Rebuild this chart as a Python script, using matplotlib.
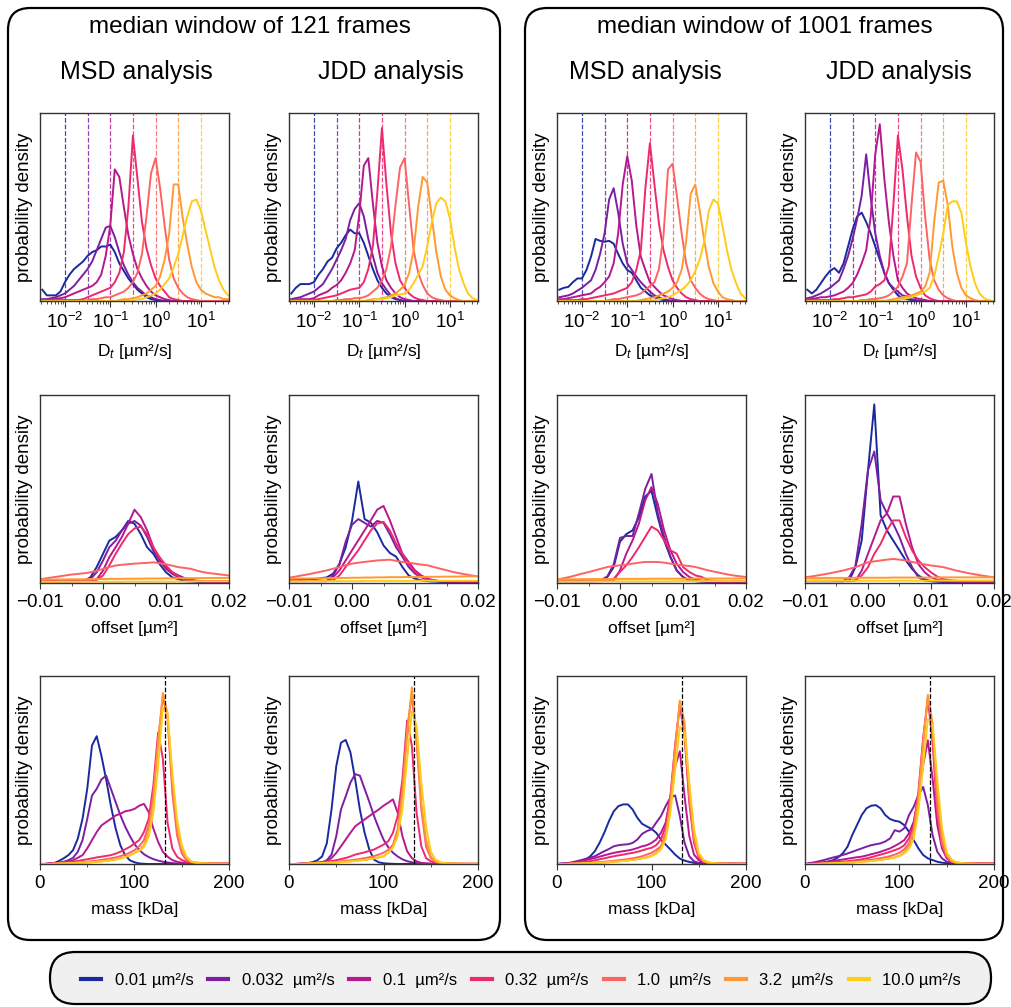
import numpy as np
import matplotlib
matplotlib.use('Agg')
import matplotlib.pyplot as plt
from matplotlib.patches import FancyBboxPatch
from matplotlib.lines import Line2D
from matplotlib.ticker import LogLocator, MultipleLocator, FuncFormatter, NullFormatter

plt.rcParams['font.family'] = ['Liberation Sans', 'DejaVu Sans']
plt.rcParams['mathtext.fontset'] = 'custom'
plt.rcParams['mathtext.rm'] = 'Liberation Sans'
plt.rcParams['mathtext.it'] = 'Liberation Sans:italic'
plt.rcParams['mathtext.bf'] = 'Liberation Sans:bold'

# diffusion coefficients of the simulated series (um^2/s)
rates = [0.01, 0.032, 0.1, 0.32, 1.0, 3.2, 10.0]
rate_labels = ['0.01 µm²/s', '0.032  µm²/s', '0.1  µm²/s', '0.32  µm²/s',
               '1.0  µm²/s', '3.2  µm²/s', '10.0 µm²/s']
colors = ['#1a2a9e', '#7b1fa2', '#b5188f', '#f0286e', '#ff6262', '#ff9933', '#ffcc1a']
true_mass = 132

# bin centres
log_d = np.round(np.arange(-2.5, 1.65, 0.1), 1)      # log10 D
offset = np.arange(-10, 21) * 1e-3                     # um^2
mass = np.arange(0, 201, 5)                            # kDa

# ---- D_t histograms (relative density), order: 0.01 ... 10.0
d_msd_121 = [
    [0.06, 0.03, 0.03, 0.03, 0.05, 0.10, 0.14, 0.17, 0.19, 0.21,
     0.24, 0.26, 0.27, 0.29, 0.29, 0.30, 0.26, 0.20, 0.16, 0.12,
     0.09, 0.06, 0.04, 0.02, 0.01, 0.005] + [0] * 16,
    [0.01, 0.01, 0.015, 0.02, 0.03, 0.04, 0.06, 0.08, 0.11, 0.14,
     0.17, 0.21, 0.27, 0.33, 0.39, 0.40, 0.34, 0.26, 0.19, 0.14,
     0.10, 0.07, 0.05, 0.03, 0.02, 0.01, 0.005] + [0] * 15,
    [0.005, 0.005, 0.01, 0.01, 0.015, 0.02, 0.03, 0.04, 0.05, 0.06,
     0.07, 0.08, 0.10, 0.14, 0.24, 0.40, 0.70, 0.66, 0.50, 0.35,
     0.25, 0.17, 0.12, 0.08, 0.05, 0.03, 0.02, 0.01, 0.005] + [0] * 13,
    [0.005, 0.005, 0.005, 0.005, 0.005, 0.005, 0.005, 0.005, 0.005, 0.01,
     0.02, 0.03, 0.04, 0.05, 0.06, 0.07, 0.10, 0.15, 0.26, 0.50,
     0.88, 0.65, 0.42, 0.28, 0.19, 0.12, 0.08, 0.05, 0.02, 0.01,
     0.005] + [0] * 11,
    [0] * 10 +
    [0.005, 0.01, 0.01, 0.015, 0.02, 0.02, 0.03, 0.04, 0.05, 0.07,
     0.10, 0.15, 0.25, 0.45, 0.68, 0.76, 0.60, 0.40, 0.22, 0.12,
     0.07, 0.04, 0.02, 0.01, 0.005] + [0] * 7,
    [0] * 17 +
    [0.005, 0.01, 0.01,
     0.015, 0.02, 0.03, 0.04, 0.06, 0.08, 0.13, 0.22, 0.36, 0.62,
     0.62, 0.44, 0.30, 0.18, 0.10, 0.06, 0.04, 0.03, 0.02, 0.02,
     0.01, 0.01],
    [0] * 20 +
    [0.005, 0.01, 0.01, 0.02, 0.03, 0.04, 0.06, 0.09, 0.12, 0.18,
     0.25, 0.35, 0.45, 0.53, 0.54, 0.48, 0.38, 0.28, 0.18, 0.11,
     0.06, 0.03],
]

d_jdd_121 = [
    [0.04, 0.07, 0.09, 0.09, 0.09, 0.10, 0.14, 0.17, 0.21, 0.23,
     0.28, 0.31, 0.35, 0.38, 0.36, 0.36, 0.31, 0.24, 0.17, 0.11,
     0.07, 0.04, 0.02, 0.01, 0.005] + [0] * 17,
    [0.01, 0.015, 0.02, 0.03, 0.04, 0.05, 0.07, 0.09, 0.13, 0.17,
     0.22, 0.27, 0.33, 0.43, 0.49, 0.52, 0.45, 0.33, 0.24, 0.15,
     0.095, 0.06, 0.03, 0.015, 0.005] + [0] * 17,
    [0.005, 0.005, 0.01, 0.01, 0.01, 0.015, 0.03, 0.04, 0.05, 0.07,
     0.085, 0.11, 0.15, 0.20, 0.27, 0.46, 0.72, 0.76, 0.52, 0.31,
     0.185, 0.11, 0.07, 0.04, 0.02, 0.01, 0.005] + [0] * 15,
    [0.005, 0.005, 0.005, 0.005, 0.005, 0.005, 0.01, 0.015, 0.02, 0.025,
     0.03, 0.04, 0.05, 0.06, 0.065, 0.07, 0.10, 0.17, 0.29, 0.58,
     0.92, 0.62, 0.36, 0.20, 0.11, 0.07, 0.04, 0.02, 0.01, 0.005] + [0] * 12,
    [0] * 10 +
    [0.005, 0.005, 0.01, 0.01, 0.015, 0.015, 0.02, 0.03, 0.05, 0.07,
     0.11, 0.17, 0.29, 0.51, 0.71, 0.76, 0.51, 0.27, 0.15, 0.085,
     0.04, 0.02, 0.01, 0.005] + [0] * 8,
    [0] * 17 +
    [0.005, 0.01, 0.01,
     0.015, 0.02, 0.03, 0.04, 0.06, 0.085, 0.15, 0.27, 0.50, 0.66,
     0.63, 0.45, 0.26, 0.13, 0.06, 0.03, 0.015, 0.005, 0, 0,
     0, 0],
    [0] * 18 +
    [0.005, 0.01,
     0.01, 0.015, 0.02, 0.03, 0.035, 0.04, 0.06, 0.095, 0.14, 0.185,
     0.29, 0.42, 0.52, 0.55, 0.53, 0.44, 0.29, 0.17, 0.095, 0.04,
     0.015, 0.005],
]

d_msd_1001 = [
    [0.06, 0.07, 0.075, 0.10, 0.12, 0.12, 0.165, 0.235, 0.33, 0.32,
     0.315, 0.32, 0.305, 0.25, 0.20, 0.165, 0.15, 0.11, 0.07, 0.05,
     0.03, 0.02, 0.01, 0.005] + [0] * 18,
    [0.02, 0.025, 0.03, 0.04, 0.055, 0.07, 0.09, 0.11, 0.165, 0.25,
     0.36, 0.54, 0.60, 0.47, 0.305, 0.20, 0.165, 0.13, 0.10, 0.075,
     0.05, 0.03, 0.02, 0.01, 0.005] + [0] * 17,
    [0.01, 0.01, 0.015, 0.02, 0.025, 0.03, 0.035, 0.04, 0.06, 0.075,
     0.10, 0.13, 0.20, 0.36, 0.62, 0.77, 0.64, 0.40, 0.235, 0.165,
     0.10, 0.075, 0.05, 0.03, 0.02, 0.01, 0.005] + [0] * 15,
    [0.005, 0.005, 0.005, 0.005, 0.005, 0.01, 0.01, 0.015, 0.02, 0.025,
     0.03, 0.035, 0.04, 0.05, 0.06, 0.07, 0.10, 0.165, 0.27, 0.60,
     0.84, 0.62, 0.41, 0.27, 0.18, 0.11, 0.07, 0.04, 0.02, 0.01,
     0.005] + [0] * 11,
    [0] * 10 +
    [0, 0.005, 0.01, 0.01, 0.015, 0.02, 0.025, 0.03, 0.04, 0.06,
     0.08, 0.10, 0.17, 0.35, 0.70, 0.73, 0.55, 0.36, 0.20, 0.11,
     0.07, 0.04, 0.02, 0.01, 0.005] + [0] * 7,
    [0] * 18 +
    [0.005, 0.01,
     0.015, 0.02, 0.03, 0.04, 0.05, 0.07, 0.10, 0.165, 0.32, 0.57,
     0.62, 0.48, 0.32, 0.18, 0.095, 0.05, 0.02, 0.01, 0.005, 0,
     0, 0],
    [0] * 21 +
    [0.005, 0.01, 0.015, 0.02, 0.03, 0.045, 0.06, 0.08, 0.11,
     0.16, 0.22, 0.32, 0.48, 0.54, 0.52, 0.40, 0.27, 0.165, 0.095,
     0.04, 0.015],
]

d_jdd_1001 = [
    [0.06, 0.04, 0.06, 0.095, 0.13, 0.16, 0.175, 0.15, 0.20, 0.29,
     0.38, 0.45, 0.47, 0.42, 0.36, 0.29, 0.22, 0.15, 0.095, 0.06,
     0.03, 0.015, 0.01, 0.005] + [0] * 18,
    [0.015, 0.02, 0.03, 0.04, 0.055, 0.07, 0.09, 0.11, 0.17, 0.24,
     0.33, 0.435, 0.56, 0.78, 0.55, 0.36, 0.24, 0.15, 0.095, 0.07,
     0.05, 0.03, 0.025, 0.01, 0.005] + [0] * 17,
    [0.01, 0.01, 0.015, 0.02, 0.02, 0.025, 0.03, 0.04, 0.05, 0.07,
     0.095, 0.14, 0.20, 0.27, 0.45, 0.78, 0.94, 0.65, 0.42, 0.24,
     0.11, 0.07, 0.04, 0.025, 0.015, 0.01, 0.005] + [0] * 15,
    [0.005, 0.005, 0.005, 0.005, 0.005, 0.005, 0.01, 0.01, 0.015, 0.02,
     0.02, 0.025, 0.03, 0.035, 0.05, 0.077, 0.09, 0.11, 0.185, 0.51,
     0.88, 0.70, 0.45, 0.24, 0.13, 0.07, 0.03, 0.015, 0.005] + [0] * 13,
    [0] * 10 +
    [0, 0, 0.005, 0.005, 0.01, 0.01, 0.015, 0.02, 0.03, 0.05,
     0.077, 0.13, 0.20, 0.51, 0.79, 0.74, 0.45, 0.22, 0.11, 0.06,
     0.03, 0.015, 0.005] + [0] * 9,
    [0] * 18 +
    [0.005, 0.01,
     0.015, 0.02, 0.025, 0.03, 0.04, 0.05, 0.077, 0.15, 0.42, 0.63,
     0.64, 0.51, 0.29, 0.15, 0.07, 0.03, 0.015, 0.005, 0, 0,
     0, 0],
    [0] * 20 +
    [0.005, 0.01, 0.015, 0.02, 0.03, 0.04, 0.05, 0.07, 0.13, 0.24,
     0.36, 0.51, 0.53, 0.53, 0.47, 0.31, 0.185, 0.095, 0.04, 0.015,
     0.005, 0],
]

# ---- offset histograms
off_msd_121 = [
    [0.01, 0.01, 0.01, 0.01, 0.01, 0.01, 0.01, 0.012, 0.03, 0.085,
     0.155, 0.225, 0.245, 0.28, 0.33, 0.315, 0.26, 0.19, 0.155, 0.10,
     0.057, 0.03, 0.02, 0.01, 0.008, 0.006, 0.005, 0.005, 0.005, 0.005,
     0.005],
    [0.01, 0.01, 0.01, 0.01, 0.01, 0.01, 0.01, 0.01, 0.02, 0.057,
     0.12, 0.19, 0.225, 0.28, 0.315, 0.33, 0.305, 0.245, 0.17, 0.12,
     0.085, 0.057, 0.04, 0.025, 0.015, 0.01, 0.008, 0.006, 0.005, 0.005,
     0.005],
    [0.01, 0.01, 0.01, 0.01, 0.01, 0.01, 0.01, 0.01, 0.01, 0.02,
     0.066, 0.137, 0.19, 0.245, 0.315, 0.39, 0.35, 0.28, 0.19, 0.12,
     0.075, 0.048, 0.03, 0.02, 0.015, 0.01, 0.008, 0.006, 0.005, 0.005,
     0.005],
    [0.012, 0.012, 0.012, 0.012, 0.012, 0.012, 0.012, 0.012, 0.012, 0.016,
     0.04, 0.093, 0.155, 0.21, 0.26, 0.29, 0.30, 0.26, 0.19, 0.137,
     0.093, 0.057, 0.034, 0.02, 0.015, 0.012, 0.01, 0.01, 0.01, 0.01,
     0.01],
    [0.02, 0.025, 0.03, 0.035, 0.04, 0.045, 0.048, 0.052, 0.057, 0.065,
     0.075, 0.085, 0.093, 0.097, 0.10, 0.103, 0.105, 0.107, 0.11, 0.105,
     0.10, 0.092, 0.084, 0.08, 0.075, 0.065, 0.057, 0.052, 0.048, 0.044,
     0.04],
    [0.018, 0.018, 0.019, 0.019, 0.019, 0.02, 0.02, 0.02, 0.021, 0.021,
     0.021, 0.022, 0.022, 0.022, 0.023, 0.023, 0.023, 0.024, 0.024, 0.024,
     0.025, 0.025, 0.025, 0.026, 0.026, 0.026, 0.026, 0.027, 0.027, 0.027,
     0.027],
    [0.006, 0.006, 0.006, 0.007, 0.007, 0.007, 0.007, 0.007, 0.007, 0.007,
     0.007, 0.007, 0.007, 0.007, 0.008, 0.008, 0.008, 0.008, 0.008, 0.008,
     0.008, 0.008, 0.008, 0.008, 0.008, 0.009, 0.009, 0.009, 0.009, 0.009,
     0.009],
]

off_jdd_121 = [
    [0.02, 0.02, 0.02, 0.02, 0.02, 0.025, 0.03, 0.05, 0.10, 0.19,
     0.33, 0.54, 0.34, 0.32, 0.27, 0.20, 0.16, 0.14, 0.085, 0.04,
     0.023, 0.014, 0.01, 0.008, 0.006, 0.005, 0.005, 0.005, 0.005, 0.005,
     0.005],
    [0.01, 0.01, 0.01, 0.01, 0.01, 0.01, 0.01, 0.04, 0.10, 0.22,
     0.31, 0.34, 0.32, 0.30, 0.33, 0.32, 0.26, 0.19, 0.14, 0.085,
     0.05, 0.03, 0.018, 0.012, 0.01, 0.008, 0.007, 0.006, 0.005, 0.005,
     0.005],
    [0.01, 0.01, 0.01, 0.01, 0.01, 0.01, 0.01, 0.03, 0.067, 0.12,
     0.174, 0.227, 0.28, 0.334, 0.39, 0.41, 0.334, 0.245, 0.156, 0.112,
     0.067, 0.04, 0.023, 0.015, 0.01, 0.008, 0.007, 0.006, 0.005, 0.005,
     0.005],
    [0.012, 0.012, 0.012, 0.012, 0.012, 0.012, 0.012, 0.015, 0.04, 0.085,
     0.13, 0.174, 0.227, 0.28, 0.316, 0.325, 0.28, 0.21, 0.156, 0.10,
     0.059, 0.032, 0.018, 0.013, 0.01, 0.01, 0.01, 0.01, 0.01, 0.01,
     0.01],
    [0.028, 0.034, 0.04, 0.046, 0.053, 0.06, 0.067, 0.076, 0.085, 0.094,
     0.103, 0.108, 0.112, 0.116, 0.12, 0.122, 0.124, 0.118, 0.112, 0.108,
     0.103, 0.098, 0.094, 0.085, 0.076, 0.068, 0.059, 0.052, 0.046, 0.04,
     0.035],
    [0.023, 0.023, 0.024, 0.024, 0.025, 0.025, 0.026, 0.026, 0.027, 0.027,
     0.028, 0.028, 0.029, 0.029, 0.03, 0.03, 0.031, 0.031, 0.031, 0.032,
     0.032, 0.032, 0.033, 0.033, 0.033, 0.034, 0.034, 0.034, 0.035, 0.035,
     0.035],
    [0.009, 0.009, 0.009, 0.01, 0.01, 0.01, 0.01, 0.01, 0.01, 0.01,
     0.01, 0.01, 0.011, 0.011, 0.011, 0.011, 0.011, 0.011, 0.011, 0.011,
     0.012, 0.012, 0.012, 0.012, 0.012, 0.012, 0.012, 0.012, 0.012, 0.012,
     0.012],
]

off_msd_1001 = [
    [0.01, 0.01, 0.01, 0.01, 0.01, 0.01, 0.01, 0.014, 0.032, 0.085,
     0.22, 0.26, 0.28, 0.35, 0.46, 0.49, 0.35, 0.227, 0.139, 0.067,
     0.032, 0.014, 0.01, 0.008, 0.006, 0.005, 0.005, 0.005, 0.005, 0.005,
     0.005],
    [0.01, 0.01, 0.01, 0.01, 0.01, 0.01, 0.01, 0.015, 0.035, 0.10,
     0.24, 0.25, 0.25, 0.37, 0.50, 0.58, 0.37, 0.245, 0.139, 0.067,
     0.032, 0.014, 0.01, 0.008, 0.006, 0.005, 0.005, 0.005, 0.005, 0.005,
     0.005],
    [0.01, 0.01, 0.01, 0.01, 0.01, 0.01, 0.01, 0.01, 0.012, 0.014,
     0.067, 0.156, 0.227, 0.316, 0.44, 0.51, 0.42, 0.28, 0.174, 0.103,
     0.059, 0.032, 0.018, 0.012, 0.01, 0.008, 0.007, 0.006, 0.005, 0.005,
     0.005],
    [0.012, 0.012, 0.012, 0.012, 0.012, 0.012, 0.012, 0.012, 0.014, 0.023,
     0.059, 0.094, 0.139, 0.19, 0.245, 0.30, 0.28, 0.227, 0.174, 0.156,
     0.085, 0.059, 0.04, 0.032, 0.014, 0.012, 0.01, 0.01, 0.01, 0.01,
     0.01],
    [0.018, 0.025, 0.032, 0.041, 0.05, 0.058, 0.067, 0.076, 0.085, 0.09,
     0.094, 0.098, 0.103, 0.108, 0.112, 0.112, 0.112, 0.108, 0.103, 0.098,
     0.094, 0.09, 0.085, 0.076, 0.067, 0.06, 0.053, 0.046, 0.04, 0.036,
     0.032],
    [0.02, 0.02, 0.02, 0.02, 0.021, 0.021, 0.021, 0.021, 0.021, 0.022,
     0.022, 0.022, 0.022, 0.022, 0.022, 0.023, 0.023, 0.023, 0.023, 0.023,
     0.023, 0.023, 0.024, 0.024, 0.024, 0.024, 0.024, 0.024, 0.024, 0.024,
     0.024],
    [0.008, 0.008, 0.008, 0.008, 0.008, 0.009, 0.009, 0.009, 0.009, 0.009,
     0.009, 0.009, 0.009, 0.009, 0.009, 0.009, 0.009, 0.009, 0.009, 0.01,
     0.01, 0.01, 0.01, 0.01, 0.01, 0.01, 0.01, 0.01, 0.01, 0.01,
     0.01],
]

off_jdd_1001 = [
    [0.01, 0.01, 0.01, 0.01, 0.01, 0.01, 0.01, 0.012, 0.084, 0.226,
     0.60, 0.95, 0.36, 0.28, 0.226, 0.173, 0.12, 0.075, 0.04, 0.02,
     0.01, 0.008, 0.006, 0.005, 0.005, 0.005, 0.005, 0.005, 0.005, 0.005,
     0.005],
    [0.01, 0.01, 0.01, 0.01, 0.01, 0.01, 0.01, 0.03, 0.09, 0.315,
     0.60, 0.70, 0.44, 0.37, 0.315, 0.244, 0.155, 0.084, 0.03, 0.012,
     0.01, 0.008, 0.006, 0.005, 0.005, 0.005, 0.005, 0.005, 0.005, 0.005,
     0.005],
    [0.01, 0.01, 0.01, 0.01, 0.01, 0.01, 0.01, 0.01, 0.012, 0.066,
     0.155, 0.244, 0.333, 0.37, 0.46, 0.46, 0.315, 0.19, 0.10, 0.057,
     0.03, 0.018, 0.012, 0.01, 0.008, 0.007, 0.006, 0.005, 0.005, 0.005,
     0.005],
    [0.012, 0.012, 0.012, 0.012, 0.012, 0.012, 0.012, 0.012, 0.015, 0.04,
     0.084, 0.155, 0.208, 0.28, 0.333, 0.333, 0.244, 0.173, 0.12, 0.084,
     0.057, 0.034, 0.02, 0.015, 0.012, 0.01, 0.01, 0.01, 0.01, 0.01,
     0.01],
    [0.03, 0.035, 0.04, 0.046, 0.052, 0.059, 0.066, 0.075, 0.084, 0.097,
     0.11, 0.115, 0.12, 0.124, 0.128, 0.124, 0.12, 0.112, 0.105, 0.099,
     0.093, 0.089, 0.084, 0.075, 0.066, 0.059, 0.052, 0.046, 0.04, 0.035,
     0.03],
    [0.026, 0.026, 0.026, 0.027, 0.027, 0.027, 0.027, 0.027, 0.028, 0.028,
     0.028, 0.028, 0.028, 0.028, 0.029, 0.029, 0.029, 0.029, 0.029, 0.029,
     0.029, 0.03, 0.03, 0.03, 0.03, 0.03, 0.03, 0.03, 0.03, 0.03,
     0.03],
    [0.011, 0.011, 0.011, 0.011, 0.011, 0.012, 0.012, 0.012, 0.012, 0.012,
     0.012, 0.012, 0.012, 0.012, 0.012, 0.012, 0.012, 0.012, 0.012, 0.012,
     0.013, 0.013, 0.013, 0.013, 0.013, 0.013, 0.013, 0.013, 0.013, 0.013,
     0.013],
]

# ---- mass histograms
mass_msd_121 = [
    [0, 0, 0.002, 0.005, 0.016, 0.03, 0.047, 0.074, 0.135, 0.24,
     0.40, 0.63, 0.68, 0.575, 0.45, 0.31, 0.19, 0.10, 0.047, 0.02,
     0.009, 0.003, 0.001, 0, 0, 0, 0, 0, 0, 0,
     0, 0, 0, 0, 0, 0, 0, 0, 0, 0, 0],
    [0, 0, 0.002, 0.004, 0.006, 0.012, 0.02, 0.033, 0.065, 0.127,
     0.24, 0.364, 0.40, 0.45, 0.47, 0.40, 0.33, 0.26, 0.20, 0.15,
     0.105, 0.075, 0.052, 0.037, 0.026, 0.018, 0.012, 0.008, 0.005, 0.003,
     0.002, 0.001, 0, 0, 0, 0, 0, 0, 0, 0, 0],
    [0, 0, 0.002, 0.004, 0.006, 0.008, 0.012, 0.02, 0.033, 0.047,
     0.083, 0.127, 0.17, 0.205, 0.223, 0.24, 0.258, 0.267, 0.28, 0.285,
     0.293, 0.31, 0.32, 0.276, 0.188, 0.118, 0.065, 0.039, 0.021, 0.012,
     0.007, 0.004, 0.003, 0.002, 0.002, 0.001, 0, 0, 0, 0, 0],
    [0, 0.001, 0.002, 0.004, 0.006, 0.008, 0.01, 0.012, 0.016, 0.021,
     0.025, 0.03, 0.035, 0.039, 0.043, 0.047, 0.055, 0.065, 0.078, 0.091,
     0.109, 0.127, 0.17, 0.24, 0.42, 0.70, 0.56, 0.22, 0.083, 0.039,
     0.021, 0.012, 0.009, 0.007, 0.006, 0.005, 0.005, 0.005, 0.004, 0.004, 0.004],
    [0, 0, 0.001, 0.002, 0.003, 0.004, 0.005, 0.006, 0.008, 0.01,
     0.012, 0.015, 0.018, 0.022, 0.026, 0.03, 0.035, 0.042, 0.05, 0.06,
     0.074, 0.095, 0.127, 0.205, 0.38, 0.66, 0.89, 0.77, 0.38, 0.153,
     0.056, 0.02, 0.01, 0.006, 0.004, 0.003, 0.002, 0.002, 0.001, 0.001, 0.001],
    [0, 0, 0, 0.001, 0.002, 0.003, 0.004, 0.005, 0.006, 0.007,
     0.008, 0.01, 0.012, 0.014, 0.017, 0.02, 0.024, 0.03, 0.037, 0.046,
     0.058, 0.075, 0.10, 0.17, 0.33, 0.645, 0.91, 0.80, 0.45, 0.205,
     0.083, 0.03, 0.012, 0.006, 0.004, 0.003, 0.002, 0.002, 0.001, 0.001, 0.001],
    [0, 0, 0, 0.001, 0.002, 0.003, 0.004, 0.005, 0.006, 0.007,
     0.008, 0.01, 0.012, 0.014, 0.017, 0.02, 0.024, 0.03, 0.037, 0.046,
     0.058, 0.07, 0.091, 0.144, 0.276, 0.52, 0.83, 0.80, 0.487, 0.24,
     0.10, 0.039, 0.015, 0.007, 0.004, 0.003, 0.002, 0.002, 0.001, 0.001, 0.001],
]

mass_jdd_121 = [
    [0, 0, 0, 0.002, 0.005, 0.01, 0.02, 0.04, 0.11, 0.29,
     0.52, 0.645, 0.66, 0.594, 0.45, 0.29, 0.166, 0.077, 0.023, 0.009,
     0.004, 0.002, 0.001, 0, 0, 0, 0, 0, 0, 0,
     0, 0, 0, 0, 0, 0, 0, 0, 0, 0, 0],
    [0, 0, 0, 0.001, 0.002, 0.003, 0.005, 0.009, 0.02, 0.05,
     0.148, 0.29, 0.36, 0.433, 0.478, 0.47, 0.40, 0.33, 0.255, 0.19,
     0.13, 0.09, 0.06, 0.04, 0.025, 0.015, 0.009, 0.005, 0.003, 0.002,
     0.001, 0, 0, 0, 0, 0, 0, 0, 0, 0, 0],
    [0, 0, 0.001, 0.002, 0.003, 0.004, 0.006, 0.009, 0.014, 0.032,
     0.059, 0.094, 0.13, 0.166, 0.20, 0.219, 0.237, 0.255, 0.273, 0.29,
     0.31, 0.326, 0.344, 0.273, 0.148, 0.068, 0.032, 0.014, 0.006, 0.003,
     0.002, 0.001, 0, 0, 0, 0, 0, 0, 0, 0, 0],
    [0, 0, 0.001, 0.002, 0.004, 0.006, 0.008, 0.01, 0.012, 0.016,
     0.02, 0.026, 0.032, 0.04, 0.05, 0.056, 0.062, 0.07, 0.077, 0.09,
     0.103, 0.121, 0.166, 0.255, 0.45, 0.763, 0.63, 0.273, 0.094, 0.032,
     0.014, 0.008, 0.005, 0.004, 0.003, 0.003, 0.002, 0.002, 0.002, 0.002, 0.002],
    [0, 0, 0.001, 0.002, 0.003, 0.004, 0.005, 0.006, 0.008, 0.01,
     0.012, 0.014, 0.017, 0.02, 0.023, 0.027, 0.031, 0.036, 0.042, 0.05,
     0.06, 0.075, 0.103, 0.184, 0.40, 0.72, 0.90, 0.65, 0.29, 0.094,
     0.032, 0.012, 0.006, 0.004, 0.003, 0.002, 0.002, 0.001, 0.001, 0.001, 0.001],
    [0, 0, 0, 0.001, 0.002, 0.003, 0.004, 0.005, 0.006, 0.007,
     0.008, 0.01, 0.012, 0.014, 0.016, 0.019, 0.022, 0.026, 0.03, 0.035,
     0.041, 0.06, 0.094, 0.166, 0.36, 0.68, 0.94, 0.68, 0.326, 0.13,
     0.041, 0.014, 0.005, 0.003, 0.002, 0.002, 0.001, 0.001, 0.001, 0.001, 0.001],
    [0, 0, 0, 0.001, 0.002, 0.003, 0.004, 0.005, 0.006, 0.007,
     0.008, 0.01, 0.012, 0.014, 0.016, 0.019, 0.022, 0.026, 0.03, 0.035,
     0.041, 0.06, 0.086, 0.148, 0.29, 0.558, 0.81, 0.736, 0.433, 0.20,
     0.068, 0.023, 0.01, 0.005, 0.003, 0.002, 0.002, 0.001, 0.001, 0.001, 0.001],
]

mass_msd_1001 = [
    [0, 0.002, 0.002, 0.005, 0.009, 0.015, 0.023, 0.04, 0.068, 0.112,
     0.166, 0.228, 0.28, 0.308, 0.317, 0.317, 0.29, 0.246, 0.214, 0.20,
     0.187, 0.166, 0.13, 0.103, 0.077, 0.05, 0.029, 0.018, 0.011, 0.006,
     0.004, 0.002, 0.001, 0, 0, 0, 0, 0, 0, 0, 0],
    [0, 0.002, 0.004, 0.008, 0.014, 0.02, 0.027, 0.034, 0.041, 0.055,
     0.068, 0.08, 0.094, 0.10, 0.103, 0.105, 0.112, 0.13, 0.16, 0.175,
     0.184, 0.22, 0.255, 0.308, 0.353, 0.365, 0.255, 0.112, 0.041, 0.014,
     0.006, 0.004, 0.003, 0.002, 0.002, 0.002, 0.001, 0.001, 0.001, 0.001, 0.001],
    [0, 0.001, 0.002, 0.004, 0.009, 0.014, 0.02, 0.026, 0.032, 0.039,
     0.046, 0.053, 0.059, 0.064, 0.068, 0.072, 0.077, 0.085, 0.094, 0.10,
     0.112, 0.13, 0.166, 0.22, 0.36, 0.52, 0.60, 0.36, 0.148, 0.05,
     0.02, 0.008, 0.005, 0.003, 0.003, 0.002, 0.002, 0.002, 0.002, 0.001, 0.001],
    [0, 0.001, 0.002, 0.004, 0.006, 0.008, 0.011, 0.015, 0.02, 0.025,
     0.03, 0.036, 0.041, 0.046, 0.05, 0.055, 0.059, 0.065, 0.072, 0.08,
     0.086, 0.10, 0.13, 0.20, 0.36, 0.63, 0.843, 0.68, 0.326, 0.112,
     0.032, 0.014, 0.007, 0.005, 0.004, 0.004, 0.004, 0.003, 0.003, 0.003, 0.003],
    [0, 0, 0.001, 0.002, 0.003, 0.004, 0.005, 0.006, 0.008, 0.01,
     0.012, 0.014, 0.017, 0.02, 0.023, 0.026, 0.03, 0.035, 0.041, 0.05,
     0.059, 0.075, 0.094, 0.166, 0.344, 0.63, 0.86, 0.70, 0.344, 0.13,
     0.041, 0.014, 0.006, 0.004, 0.003, 0.002, 0.002, 0.001, 0.001, 0.001, 0.001],
    [0, 0, 0, 0.001, 0.002, 0.003, 0.004, 0.005, 0.006, 0.007,
     0.008, 0.01, 0.012, 0.014, 0.016, 0.019, 0.022, 0.026, 0.03, 0.036,
     0.044, 0.06, 0.086, 0.148, 0.31, 0.594, 0.87, 0.754, 0.40, 0.148,
     0.05, 0.015, 0.006, 0.003, 0.002, 0.002, 0.001, 0.001, 0.001, 0.001, 0.001],
    [0, 0, 0, 0.001, 0.002, 0.003, 0.004, 0.005, 0.006, 0.007,
     0.008, 0.01, 0.012, 0.014, 0.016, 0.019, 0.022, 0.026, 0.03, 0.035,
     0.041, 0.055, 0.077, 0.13, 0.273, 0.50, 0.73, 0.70, 0.433, 0.184,
     0.059, 0.023, 0.01, 0.005, 0.003, 0.002, 0.002, 0.001, 0.001, 0.001, 0.001],
]

mass_jdd_1001 = [
    [0, 0.001, 0.002, 0.004, 0.009, 0.014, 0.021, 0.035, 0.057, 0.092,
     0.154, 0.207, 0.26, 0.296, 0.31, 0.313, 0.296, 0.26, 0.239, 0.23,
     0.225, 0.207, 0.172, 0.127, 0.083, 0.048, 0.03, 0.021, 0.012, 0.007,
     0.004, 0.002, 0.001, 0, 0, 0, 0, 0, 0, 0, 0],
    [0, 0.005, 0.009, 0.015, 0.021, 0.028, 0.035, 0.041, 0.048, 0.056,
     0.065, 0.074, 0.083, 0.092, 0.10, 0.105, 0.11, 0.12, 0.136, 0.18,
     0.172, 0.19, 0.26, 0.304, 0.366, 0.41, 0.313, 0.154, 0.065, 0.03,
     0.012, 0.006, 0.004, 0.003, 0.003, 0.002, 0.003, 0.002, 0.002, 0.002, 0.002],
    [0, 0.002, 0.004, 0.006, 0.009, 0.012, 0.016, 0.02, 0.024, 0.028,
     0.032, 0.036, 0.039, 0.045, 0.052, 0.058, 0.065, 0.074, 0.083, 0.096,
     0.11, 0.127, 0.163, 0.225, 0.35, 0.526, 0.658, 0.455, 0.207, 0.083,
     0.03, 0.012, 0.006, 0.004, 0.004, 0.004, 0.005, 0.004, 0.003, 0.003, 0.003],
    [0, 0.001, 0.002, 0.003, 0.005, 0.007, 0.009, 0.011, 0.013, 0.015,
     0.018, 0.021, 0.025, 0.03, 0.036, 0.043, 0.05, 0.057, 0.065, 0.074,
     0.083, 0.10, 0.136, 0.207, 0.384, 0.667, 0.876, 0.65, 0.26, 0.10,
     0.039, 0.015, 0.008, 0.005, 0.004, 0.004, 0.004, 0.004, 0.003, 0.003, 0.003],
    [0, 0, 0.001, 0.002, 0.003, 0.004, 0.005, 0.006, 0.008, 0.01,
     0.012, 0.014, 0.017, 0.02, 0.023, 0.027, 0.031, 0.036, 0.042, 0.05,
     0.06, 0.078, 0.11, 0.185, 0.36, 0.66, 0.89, 0.70, 0.30, 0.11,
     0.04, 0.014, 0.006, 0.004, 0.003, 0.002, 0.002, 0.001, 0.001, 0.001, 0.001],
    [0, 0, 0, 0.001, 0.002, 0.003, 0.004, 0.005, 0.006, 0.007,
     0.008, 0.01, 0.012, 0.014, 0.016, 0.019, 0.022, 0.026, 0.03, 0.036,
     0.044, 0.062, 0.095, 0.17, 0.34, 0.63, 0.90, 0.75, 0.38, 0.15,
     0.05, 0.016, 0.006, 0.003, 0.002, 0.002, 0.001, 0.001, 0.001, 0.001, 0.001],
    [0, 0, 0, 0.001, 0.002, 0.003, 0.004, 0.005, 0.006, 0.007,
     0.008, 0.01, 0.012, 0.014, 0.016, 0.019, 0.022, 0.026, 0.03, 0.035,
     0.042, 0.057, 0.08, 0.135, 0.28, 0.52, 0.77, 0.74, 0.45, 0.19,
     0.062, 0.024, 0.01, 0.005, 0.003, 0.002, 0.002, 0.001, 0.001, 0.001, 0.001],
]

W, H = 1012, 1007
fig = plt.figure(figsize=(W / 100, H / 100), dpi=100)


def px_axes(left, top, w=189, h=188):
    return fig.add_axes([left / W, 1 - (top + h) / H, w / W, h / H])


def style(ax, xlabel):
    ax.set_yticks([])
    ax.set_ylim(0, 1)
    ax.set_ylabel('probability density', fontsize=13.5, labelpad=5)
    ax.set_xlabel(xlabel, fontsize=12.5, labelpad=7)
    for s in ax.spines.values():
        s.set_color('#333333')
        s.set_linewidth(1.0)
    ax.tick_params(axis='x', which='major', labelsize=13.5, length=4, color='#333333', pad=4)
    ax.tick_params(axis='x', which='minor', length=2.5, color='#333333')


def draw_d(ax, curves):
    for r, c in zip(rates, colors):
        ax.axvline(r, color=c, ls='--', lw=0.9, alpha=0.85, zorder=1)
    for y, c in zip(curves, colors):
        ax.plot(10 ** log_d, y, color=c, lw=1.4, zorder=2)
    ax.set_xscale('log')
    ax.set_xlim(10 ** -2.55, 10 ** 1.62)
    ax.xaxis.set_major_locator(LogLocator(base=10, numticks=12))
    ax.xaxis.set_minor_locator(LogLocator(base=10, subs=np.arange(2, 10), numticks=12))
    ax.xaxis.set_minor_formatter(NullFormatter())
    style(ax, 'D$_t$ [µm²/s]')


def draw_offset(ax, curves):
    for y, c in zip(curves, colors):
        ax.plot(offset, y, color=c, lw=1.4)
    ax.set_xlim(-0.01, 0.02)
    ax.xaxis.set_major_locator(MultipleLocator(0.01))
    ax.xaxis.set_minor_locator(MultipleLocator(0.005))
    ax.xaxis.set_major_formatter(FuncFormatter(lambda v, p: ('%.2f' % v).replace('-', '\u2212')
                                                 if abs(v) > 1e-9 else '0.00'))
    style(ax, 'offset [µm²]')


def draw_mass(ax, curves):
    for y, c in zip(curves, colors):
        ax.plot(mass, y, color=c, lw=1.4)
    ax.axvline(true_mass, color='black', ls='--', lw=0.9)
    ax.set_xlim(0, 200)
    ax.xaxis.set_major_locator(MultipleLocator(100))
    ax.xaxis.set_minor_locator(MultipleLocator(50))
    style(ax, 'mass [kDa]')


col_left = [40, 289, 557, 805]
row_top = [113, 395, 676]
panels = [
    (d_msd_121, d_jdd_121, d_msd_1001, d_jdd_1001),
    (off_msd_121, off_jdd_121, off_msd_1001, off_jdd_1001),
    (mass_msd_121, mass_jdd_121, mass_msd_1001, mass_jdd_1001),
]
drawers = [draw_d, draw_offset, draw_mass]
for r in range(3):
    for c in range(4):
        ax = px_axes(col_left[c], row_top[r])
        drawers[r](ax, panels[r][c])

# group frames
for x0, x1 in [(8, 500), (525, 1003)]:
    fig.add_artist(FancyBboxPatch((x0 / W, 1 - 940 / H), (x1 - x0) / W, 932 / H,
                                  boxstyle='round,pad=0,rounding_size=0.022',
                                  transform=fig.transFigure, fc='white', ec='black',
                                  lw=1.6, zorder=-1))
fig.add_artist(FancyBboxPatch((50 / W, 1 - 1004 / H), 941 / W, 52 / H,
                              boxstyle='round,pad=0,rounding_size=0.025',
                              transform=fig.transFigure, fc='#f0f0f0', ec='black',
                              lw=1.6, zorder=-1))

fig.text(250 / W, 1 - 27 / H, 'median window of 121 frames', ha='center', va='center', fontsize=17.5)
fig.text(765 / W, 1 - 27 / H, 'median window of 1001 frames', ha='center', va='center', fontsize=17.5)
for xc, t in zip([136, 391, 645, 899], ['MSD analysis', 'JDD analysis'] * 2):
    fig.text(xc / W, 1 - 72 / H, t, ha='center', va='center', fontsize=18)

handles = [Line2D([], [], color=c, lw=3) for c in colors]
fig.legend(handles, rate_labels, loc='center', bbox_to_anchor=(521 / W, 1 - 980 / H),
           ncol=7, frameon=False, fontsize=12, handlelength=1.2, handletextpad=0.8,
           columnspacing=0.9)

fig.savefig('out.png', dpi=100)
